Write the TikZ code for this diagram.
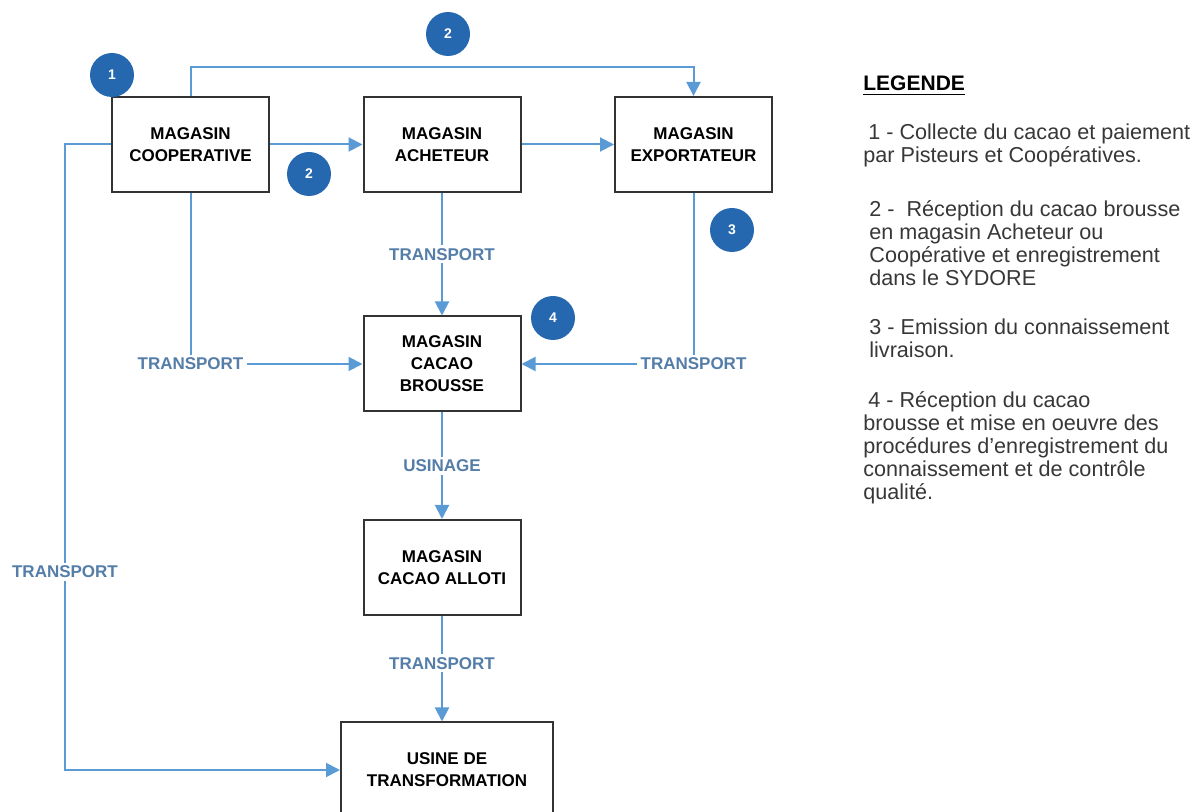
\documentclass[tikz,border=0pt]{standalone}
\usepackage{fontspec}
\setmainfont{Liberation Sans}
\usepackage{tikz}
\usetikzlibrary{arrows.meta}
\definecolor{flowblue}{RGB}{91,155,213}
\definecolor{badgeblue}{RGB}{38,104,176}
\definecolor{labelblue}{RGB}{84,125,168}
\definecolor{legendgray}{RGB}{55,55,55}
\tikzset{
  magasin/.style = {draw = black!80, line width = 1pt, minimum width = 78.5pt, minimum height = 47.5pt, inner sep = 0pt, align = center, font = \fontsize{8.5}{11}\selectfont\bfseries},
  flow/.style = {draw = flowblue, line width = 1pt},
  flowarrow/.style = {flow, -{Triangle[length = 7pt, width = 7pt]}},
  flowlabel/.style = {fill = white, text = labelblue, inner sep = 1.5pt, font = \fontsize{8.5}{10}\selectfont\bfseries},
  badge/.style = {circle, fill = badgeblue, text = white, minimum size = 22pt, inner sep = 0pt, font = \fontsize{7}{8}\selectfont\bfseries},
  legende/.style = {anchor = base west, align = left, inner sep = 0pt, text = legendgray, font = \fontsize{10.8}{11.5}\selectfont}
}
\newcommand{\tikzPlaceBadge}[3]{\node[badge] (#1) at #2 {#3}}

\begin{document}
\begin{tikzpicture}[x = 0.5pt, y = -0.5pt]
                \useasboundingbox (0,0) rectangle (1201,812);
                \node[magasin] (cooperative) at (190.5,144.5) {MAGASIN\\COOPERATIVE};
                \node[magasin] (acheteur) at (442,144.5) {MAGASIN\\ACHETEUR};
                \node[magasin] (exportateur) at (693.5,144.5) {MAGASIN\\EXPORTATEUR};
                \node[magasin] (brousse) at (442,364) {MAGASIN\\CACAO\\BROUSSE};
                \node[magasin] (alloti) at (442,567.5) {MAGASIN\\CACAO ALLOTI};
                \node[magasin, minimum width = 106pt] (usine) at (447,770) {USINE DE\\TRANSFORMATION};
                \coordinate (lignehaut) at (0,67);
                \draw [flowarrow] (cooperative.north) -- (cooperative.north |- lignehaut) -| (exportateur.north);
                \draw [flowarrow] (cooperative) -- (acheteur);
                \draw [flowarrow] (acheteur) -- (exportateur);
                \node[flowlabel] (tcooperative) at (cooperative |- brousse) {TRANSPORT};
                \node[flowlabel] (texportateur) at (exportateur |- brousse) {TRANSPORT};
                \node[flowlabel] (tretour) at (65,572) {TRANSPORT};
                \draw [flow] (cooperative.south) -- (tcooperative.north);
                \draw [flowarrow] (tcooperative.east) -- (brousse.west);
                \draw [flow] (exportateur.south) -- (texportateur.north);
                \draw [flowarrow] (texportateur.west) -- (brousse.east);
                \draw [flow] (cooperative.west) -| (tretour.north);
                \draw [flowarrow] (tretour.south) |- (usine.west);
                \draw [flowarrow] (acheteur) -- node[flowlabel] (tacheteur) {TRANSPORT} (brousse);
                \draw [flowarrow] (brousse) -- node[flowlabel] (tusinage) {USINAGE} (alloti);
                \draw [flowarrow] (alloti.south) -- node[flowlabel, pos = 0.45] (talloti) {TRANSPORT} (alloti.south |- usine.north);
                \tikzPlaceBadge{badgeun}{(112,75)}{1};
                \tikzPlaceBadge{badgedeuxhaut}{(448,34)}{2};
                \tikzPlaceBadge{badgedeuxbas}{(309,174)}{2};
                \tikzPlaceBadge{badgetrois}{(732,230)}{3};
                \tikzPlaceBadge{badgequatre}{(553,318)}{4};
                % legende: base = ligne du bas de chaque bloc
                \node[legende, text = black, font = \fontsize{10.5}{12}\selectfont\bfseries] (legende) at (863,91) {\underline{LEGENDE}};
                \node[legende] (legendeun) at (863,163) {\hspace*{2.5pt}1 - Collecte du cacao et paiement\\par Pisteurs et Coopératives.};
                \node[legende] (legendedeux) at (869,286) {2 -\ \ Réception du cacao brousse\\en magasin Acheteur ou\\Coopérative et enregistrement\\dans le SYDORE};
                \node[legende] (legendetrois) at (869,358) {3 - Emission du connaissement\\livraison.};
                \node[legende] (legendequatre) at (863,500) {\hspace*{2.5pt}4 - Réception du cacao\\brousse et mise en oeuvre des\\procédures d’enregistrement du\\connaissement et de contrôle\\qualité.};
              \end{tikzpicture}
\end{document}
